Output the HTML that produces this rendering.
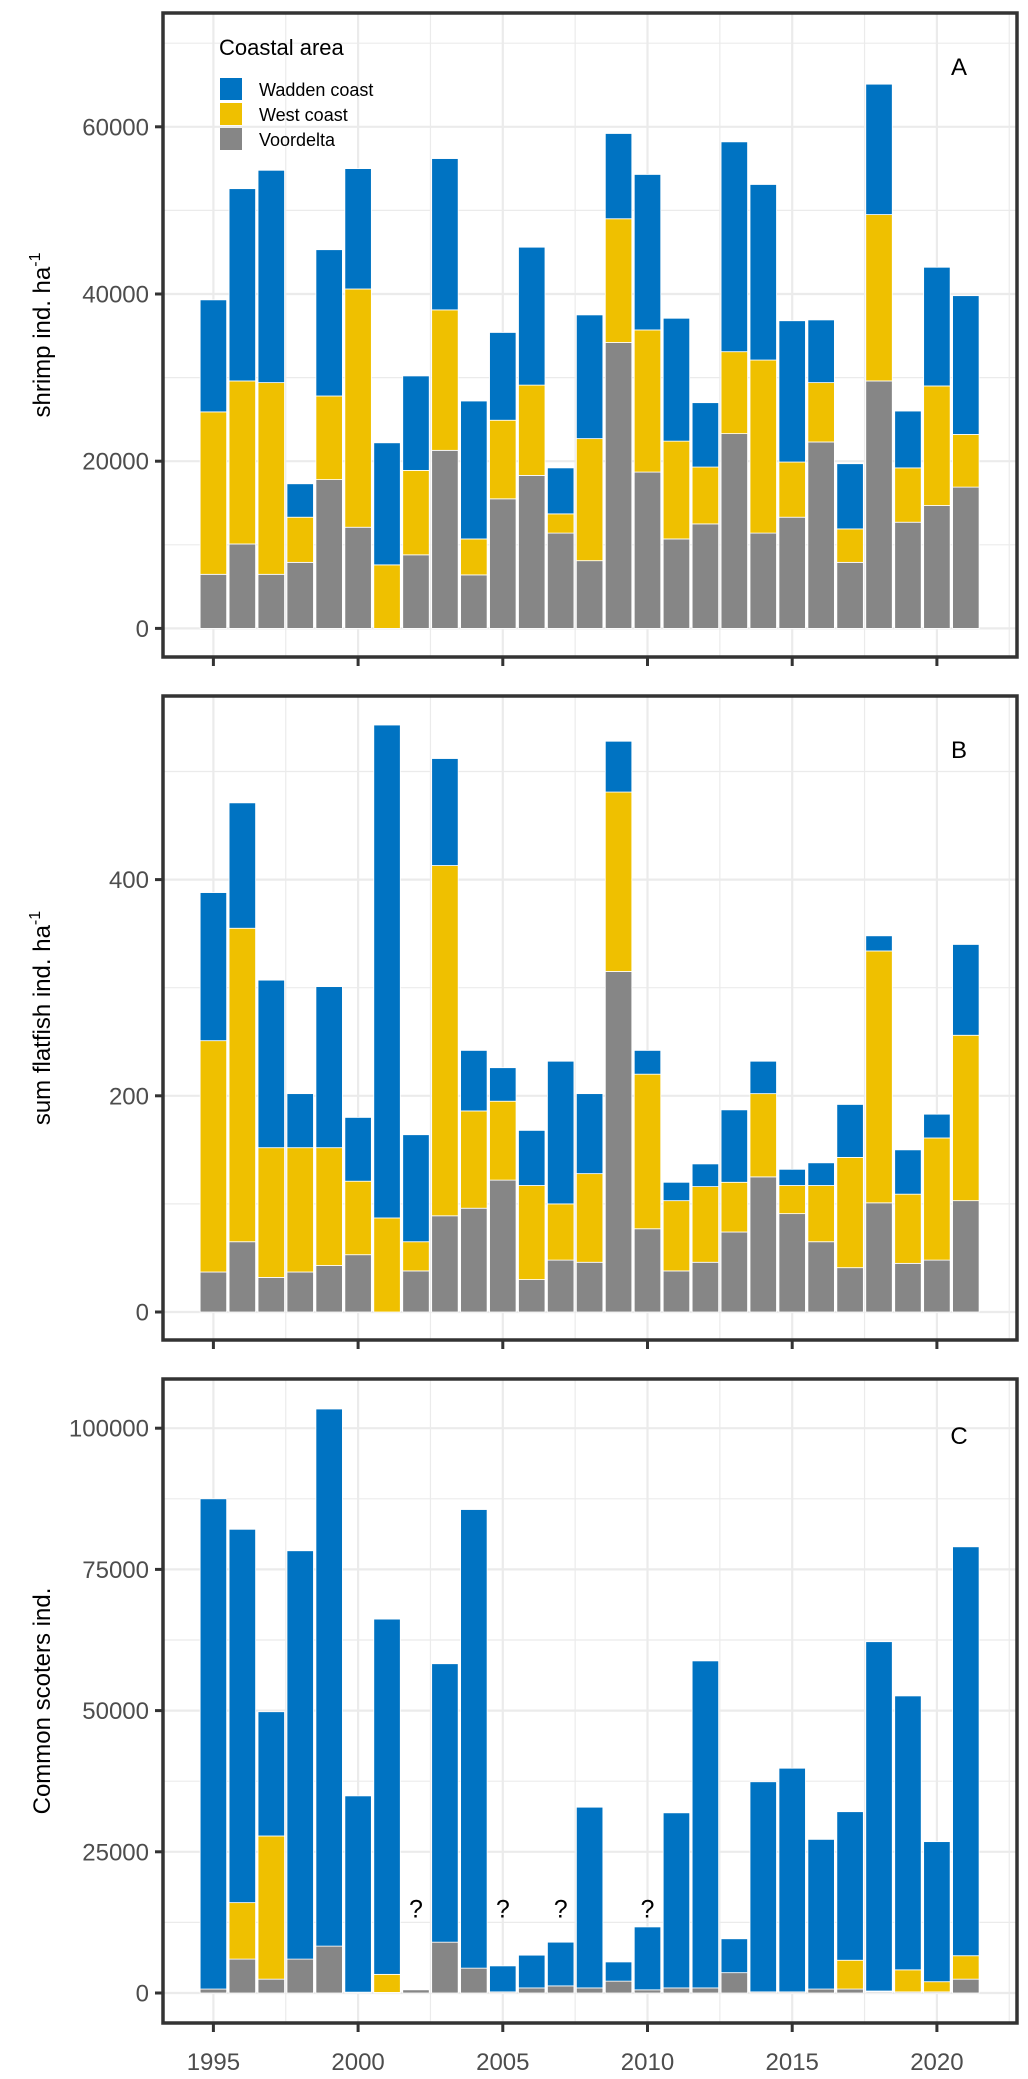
<!DOCTYPE html>
<html><head><meta charset="utf-8"><style>
html,body{margin:0;padding:0;background:#fff;}
svg{display:block;font-family:"Liberation Sans",Arial,sans-serif;}
</style></head><body>
<svg id="chart" xmlns="http://www.w3.org/2000/svg" width="1028" height="2079" viewBox="0 0 1028 2079"></svg>
<script>
const years = [1995,1996,1997,1998,1999,2000,2001,2002,2003,2004,2005,2006,2007,2008,2009,2010,2011,2012,2013,2014,2015,2016,2017,2018,2019,2020,2021];
const seriesNames = ["Voordelta","West coast","Wadden coast"];
// Panel A: shrimp
const shrimpVoordelta = [6470,10100,6470,7900,17800,12100,0,8800,21300,6400,15500,18300,11400,8100,34200,18700,10700,12500,23300,11400,13300,22300,7900,29600,12700,14700,16900];
const shrimpWest = [19430,19500,22930,5400,10000,28500,7600,10100,16800,4300,9400,10800,2300,14600,14800,17000,11700,6800,9800,20700,6600,7100,4000,19900,6500,14300,6300];
const shrimpWadden = [13400,23000,25400,4000,17500,14400,14600,11300,18100,16500,10500,16500,5500,14800,10200,18600,14700,7700,25100,21000,16900,7500,7800,15600,6800,14200,16600];
// Panel B: flatfish
const flatVoordelta = [37,65,32,37,43,53,0,38,89,96,122,30,48,46,315,77,38,46,74,125,91,65,41,101,45,48,103];
const flatWest = [214,290,120,115,109,68,87,27,324,90,73,87,52,82,166,143,65,70,46,77,26,52,102,233,64,113,153];
const flatWadden = [137,116,155,50,149,59,456,99,99,56,31,51,132,74,47,22,17,21,67,30,15,21,49,14,41,22,84];
// Panel C: common scoters
const scoterVoordelta = [700,6000,2450,6000,8300,150,100,560,9000,4400,200,900,1260,900,2100,560,900,900,3600,200,200,700,700,200,200,200,2450];
const scoterWest = [0,10000,25350,0,0,0,3200,0,0,0,0,0,0,0,0,0,0,0,0,0,0,0,5100,150,3900,1800,4150];
const scoterWadden = [86800,66100,22000,72300,95100,34750,62900,0,49300,81200,4600,5800,7740,32000,3400,11140,31000,57900,6000,37200,39600,26500,26300,61850,48500,24800,72400];
const unknownYears = [2002,2005,2007,2010];
const ticksA = [0,20000,40000,60000];
const ticksB = [0,200,400];
const ticksC = [0,25000,50000,75000,100000];
const xTicks = [1995,2000,2005,2010,2015,2020];

const NS="http://www.w3.org/2000/svg";
const svg=document.getElementById('chart');
const colors=["#868686","#EFC000","#0073C2"];
function mk(tag,attrs,parent){const e=document.createElementNS(NS,tag);for(const k in attrs)e.setAttribute(k,attrs[k]);(parent||svg).appendChild(e);return e;}
const X0=163,X1=1017;
function x(yr){return 213.4+(yr-1995)*28.94;}
const barW=26.5;

function panel(cfg){
  const g=mk('g',{});
  
  
  const y=v=>cfg.zeroY-(v/cfg.unit)*cfg.unitPx;
  for(let v=cfg.minorStep/2;y(v)>cfg.top;v+=cfg.minorStep){
    const l=mk('line',{x1:X0,x2:X1,y1:y(v),y2:y(v),stroke:'#ebebeb','stroke-width':1.2},g);
    
    
  }
  for(let v=0;y(v)>cfg.top;v+=cfg.minorStep){
    const l=mk('line',{x1:X0,x2:X1,y1:y(v),y2:y(v),stroke:'#ebebeb','stroke-width':2.2},g);
    
    
  }
  for(let yr=1997.5;yr<2023;yr+=5){
    const l=mk('line',{x1:x(yr),x2:x(yr),y1:cfg.top,y2:cfg.bottom,stroke:'#ebebeb','stroke-width':1.2},g);
    
    
  }
  xTicks.forEach(yr=>{
    const l=mk('line',{x1:x(yr),x2:x(yr),y1:cfg.top,y2:cfg.bottom,stroke:'#ebebeb','stroke-width':2.2},g);
    
    
  });
  years.forEach((yr,i)=>{
    let base=0;
    cfg.series.forEach((s,si)=>{
      const v=s[i];
      if(v>0){
        const r=mk('rect',{x:x(yr)-barW/2,y:y(base+v),width:barW,height:y(base)-y(base+v),fill:colors[si],stroke:'#fff','stroke-width':0.8},g);
        
        
      }
      base+=v;
    });
  });
  const b=mk('rect',{x:X0,y:cfg.top,width:X1-X0,height:cfg.bottom-cfg.top,fill:'none',stroke:'#333','stroke-width':3.5},g);
  
  
  cfg.ticks.forEach(v=>{
    const t=mk('line',{x1:X0-8,x2:X0,y1:y(v),y2:y(v),stroke:'#333','stroke-width':3},g);
    
    
    const tx=mk('text',{x:X0-14,y:y(v)+8.5,'text-anchor':'end','font-size':24,fill:'#4d4d4d'},g);
    tx.textContent=v;
    
    
  });
  xTicks.forEach(yr=>{
    const t=mk('line',{x1:x(yr),x2:x(yr),y1:cfg.bottom,y2:cfg.bottom+9,stroke:'#333','stroke-width':3},g);
    
    
  });
  const L=mk('text',{x:959,y:cfg.letterY+9,'text-anchor':'middle','font-size':24,fill:'#000'},g);
  L.textContent=cfg.letter;
  
  
  const cy=(cfg.top+cfg.bottom)/2;
  const T=mk('text',{x:0,y:0,'text-anchor':'middle','font-size':24,fill:'#000',transform:`translate(50,${cy}) rotate(-90)`},g);
  T.innerHTML=cfg.title;
  
  
  return y;
}

panel({name:'panel-a-shrimp',top:13,bottom:657,zeroY:628.4,unit:10000,unitPx:83.6,minorStep:20000,ticks:ticksA,series:[shrimpVoordelta,shrimpWest,shrimpWadden],letter:'A',letterY:66,title:'shrimp ind. ha<tspan dy="-10" font-size="16">-1</tspan>'});
panel({name:'panel-b-flatfish',top:696,bottom:1340,zeroY:1312,unit:100,unitPx:108.1,minorStep:200,ticks:ticksB,series:[flatVoordelta,flatWest,flatWadden],letter:'B',letterY:749,title:'sum flatfish ind. ha<tspan dy="-10" font-size="16">-1</tspan>'});
const yC=panel({name:'panel-c-scoters',top:1379,bottom:2023,zeroY:1993,unit:25000,unitPx:141.2,minorStep:25000,ticks:ticksC,series:[scoterVoordelta,scoterWest,scoterWadden],letter:'C',letterY:1435,title:'Common scoters ind.'});

unknownYears.forEach(yr=>{
  const q=mk('text',{x:x(yr),y:yC(15000)+9,'text-anchor':'middle','font-size':25,fill:'#000'});
  q.textContent='?';
  
  
});
xTicks.forEach(yr=>{
  const t=mk('text',{x:x(yr),y:2070,'text-anchor':'middle','font-size':24,fill:'#4d4d4d'});
  t.textContent=yr;
  
  
});

const lg=mk('g',{});


const lt=mk('text',{x:219,y:55,'font-size':22,fill:'#000'},lg);
lt.textContent='Coastal area';


const legItems=[["Wadden coast","#0073C2"],["West coast","#EFC000"],["Voordelta","#868686"]];
legItems.forEach((it,i)=>{
  const r=mk('rect',{x:220,y:78+i*25,width:22,height:22,fill:it[1]},lg);
  
  
  const t=mk('text',{x:259,y:96+i*25,'font-size':18,fill:'#000'},lg);
  t.textContent=it[0];
  
  
});
</script>
</body></html>
